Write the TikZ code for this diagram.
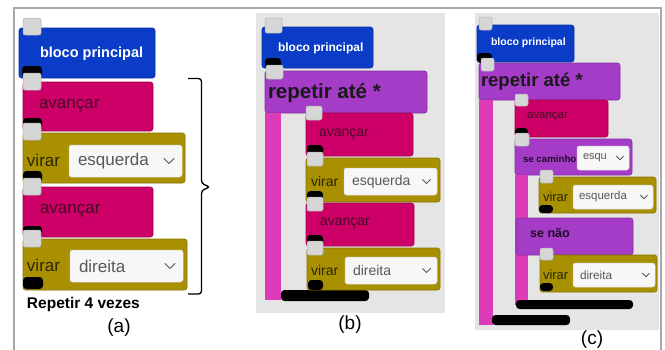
\documentclass[tikz,border=0pt]{standalone}
\usepackage{fontspec}
\setmainfont{Liberation Sans}
\definecolor{cblue}{HTML}{0A3CC8}
\definecolor{cpink}{HTML}{CC0066}
\definecolor{colive}{HTML}{A89000}
\definecolor{cpurp}{HTML}{A43CC8}
\definecolor{cbar}{HTML}{DC3CB8}
\definecolor{cbg}{HTML}{E5E5E5}
\definecolor{csq}{HTML}{D6D6D6}
\definecolor{cpinktxt}{HTML}{4A0828}
\definecolor{colivetxt}{HTML}{2B2600}
\definecolor{cddtxt}{HTML}{585858}
\definecolor{cframe}{HTML}{A8A8A8}
\newcommand\fsz[1]{\fontsize{#1}{#1}\selectfont}
\tikzset{
  blockbase/.style={anchor=north west, inner sep=0, outer sep=0, rounded corners=2.5, line width=0.6},
  graysq/.style={anchor=north west, inner sep=0, outer sep=0, rounded corners=2, fill=csq, draw=black!30, line width=0.5},
  notchbox/.style={anchor=north west, inner sep=0, outer sep=0, rounded corners=3.5, fill=black},
  ddbox/.style={anchor=north west, inner sep=0, outer sep=0, rounded corners=2.5, fill=black!3, draw=black!15, line width=0.5},
  lbl/.style={anchor=west, inner sep=0, outer sep=0},
  chevron/.style={draw=cddtxt, line width=0.9, line cap=round, line join=round},
}
% block: name, x1, y1, x2, y2, colour
\newcommand\myblock[6]{\node[blockbase, fill=#6, draw=#6!80!black,
  minimum width={(#4)-(#2)}, minimum height={(#5)-(#3)}] (#1) at (#2,#3) {};}
% connector square: name, x, y, w, h
\newcommand\grsq[5]{\node[graysq, minimum width=#4, minimum height=#5] (#1) at (#2,#3) {};}
% black notch: name, x, y, w, h
\newcommand\notchb[5]{\node[notchbox, minimum width=#4, minimum height=#5] (#1) at (#2,#3) {};}
% dropdown: name, x1, y1, x2, y2, text, font size, text inset, chevron half-width
\newcommand\ddown[9]{%
  \node[ddbox, minimum width={(#4)-(#2)}, minimum height={(#5)-(#3)}] (#1) at (#2,#3) {};
  \node[lbl, text=cddtxt, font=\fsz{#7}] (#1t) at ([xshift=#8]#1.west) {#6};
  \coordinate (#1c) at ([xshift=-#9*2.6]#1.east);
  \draw[chevron] ([shift={(-#9,-#9*0.5)}]#1c) -- ([shift={(0,#9*0.5)}]#1c) -- ([shift={(#9,-#9*0.5)}]#1c);}
\begin{document}
\begin{tikzpicture}[x=1pt,y=-1pt]
\useasboundingbox (0,0) rectangle (665,349);
\fill[white] (0,0) rectangle (665,349);
% outer frame
\draw[cframe, line width=1.4] (14,350) -- (14,8) -- (661,8) -- (661,350);

% ---------------- (a) ----------------
\myblock{aB}{19}{28}{155}{78}{cblue}
\grsq{aBs}{23}{18}{18}{17}
\node[lbl, text=white, font=\bfseries\fsz{14.5}] (aBt) at (40,54) {bloco principal};
\notchb{aBn}{22}{66}{20}{12}

\myblock{aP1}{23}{82}{153}{131}{cpink}
\grsq{aP1s}{23}{73}{18}{17}
\node[lbl, text=cpinktxt, font=\fsz{17}] (aP1t) at (39,106) {avançar};
\notchb{aP1n}{23}{118}{19}{12}

\myblock{aV1}{23}{133}{185}{183}{colive}
\grsq{aV1s}{23}{123}{18}{17}
\node[lbl, text=colivetxt, font=\fsz{17}] (aV1t) at (27,160) {virar};
\ddown{aD1}{69}{145}{182}{177}{esquerda}{17}{9}{5}
\notchb{aV1n}{23}{171}{19}{12}

\myblock{aP2}{23}{187}{153}{237}{cpink}
\grsq{aP2s}{23}{178}{18}{17}
\node[lbl, text=cpinktxt, font=\fsz{17}] (aP2t) at (40,211) {avançar};
\notchb{aP2n}{23}{226}{19}{12}

\myblock{aV2}{23}{239}{187}{290}{colive}
\grsq{aV2s}{23}{230}{18}{17}
\node[lbl, text=colivetxt, font=\fsz{17}] (aV2t) at (27,265) {virar};
\ddown{aD2}{70}{250}{183}{282}{direita}{17}{9}{5}
\notchb{aV2n}{23}{277}{20}{12}

% brace grouping the repeated blocks
\coordinate (brT) at (188,78.5);
\coordinate (brM) at (210,187);
\coordinate (brB) at (188,294);
\draw[line width=1.3, rounded corners=3] (brT) -- (201.5,78.5) -- (201.5,183.5) -- (brM) -- (201.5,190.5) -- (201.5,294) -- (brB);
\node[lbl, font=\bfseries\fsz{15.5}] (aRep) at (27,304) {Repetir 4 vezes};
\node[inner sep=0, font=\fsz{19}] (capA) at (119,328) {(a)};

% ---------------- (b) ----------------
\fill[cbg] (256,13) rectangle (445,313);
\myblock{bB}{262}{27}{373}{68}{cblue}
\grsq{bBs}{265}{18}{17}{15}
\node[lbl, text=white, font=\bfseries\fsz{12}] (bBt) at (278,48) {bloco principal};
\notchb{bBn}{265}{58}{16}{11}

\myblock{bR}{265}{71}{427}{113}{cpurp}
\grsq{bRs}{266}{65}{17}{14}
\node[lbl, text=black!90, font=\bfseries\fsz{20.5}] (bRt) at (268,93) {repetir até *};
\fill[cbar] (265,113) rectangle (281,300);
\node[notchbox, minimum width=88, minimum height=11] (bEnd) at (281,290) {};

\myblock{bP1}{306}{113}{413}{156}{cpink}
\grsq{bP1s}{306}{106}{16}{14}
\node[lbl, text=cpinktxt, font=\fsz{14}] (bP1t) at (319,134) {avançar};
\notchb{bP1n}{307}{145}{16}{10}

\myblock{bV1}{306}{158}{440}{202}{colive}
\grsq{bV1s}{307}{152}{16}{14}
\node[lbl, text=colivetxt, font=\fsz{14}] (bV1t) at (311,181) {virar};
\ddown{bD1}{344}{168}{437}{195}{esquerda}{14}{8}{4}
\notchb{bV1n}{307}{191}{16}{10}

\myblock{bP2}{306}{203}{414}{246}{cpink}
\grsq{bP2s}{307}{197}{16}{14}
\node[lbl, text=cpinktxt, font=\fsz{14}] (bP2t) at (320,223) {avançar};
\notchb{bP2n}{307}{235}{16}{10}

\myblock{bV2}{307}{248}{440}{290}{colive}
\grsq{bV2s}{307}{241}{16}{14}
\node[lbl, text=colivetxt, font=\fsz{14}] (bV2t) at (311,270) {virar};
\ddown{bD2}{345}{257}{437}{284}{direita}{14}{8}{4}
\notchb{bV2n}{308}{280}{15}{10}
\node[inner sep=0, font=\fsz{19}] (capB) at (350,325) {(b)};

% ---------------- (c) ----------------
\fill[cbg] (475,13) rectangle (659,330);
\myblock{cB}{477}{25}{574}{62}{cblue}
\grsq{cBs}{479}{17}{13}{13}
\node[lbl, text=white, font=\bfseries\fsz{10.5}] (cBt) at (491,43) {bloco principal};
\notchb{cBn}{477}{53}{15}{10}

\myblock{cR}{479}{63}{620}{100}{cpurp}
\grsq{cRs}{481}{58}{13}{13}
\node[lbl, text=black!90, font=\bfseries\fsz{18.5}] (cRt) at (481,82) {repetir até *};
\fill[cbar] (479,100) rectangle (493,325);
\node[notchbox, minimum width=78, minimum height=10] (cEnd) at (492,315) {};

\myblock{cP1}{515}{100}{608}{137}{cpink}
\grsq{cP1s}{515}{94}{13}{12}
\node[lbl, text=cpinktxt, font=\fsz{11.5}] (cP1t) at (527,117) {avançar};
\notchb{cP1n}{515}{128}{13}{10}

\myblock{cIf}{515}{139}{632}{175}{cpurp}
\grsq{cIfs}{515}{133}{14}{13}
\node[lbl, text=black!80!cpurp, font=\bfseries\fsz{9.7}] (cIft) at (523,159) {se caminho};
\ddown{cDc}{577}{146}{629}{170}{esqu}{11}{6}{3.5}
\fill[cbar] (515,175) rectangle (528,305);

\myblock{cV1}{539}{177}{656}{213}{colive}
\grsq{cV1s}{540}{170}{13}{13}
\node[lbl, text=colivetxt, font=\fsz{13}] (cV1t) at (543,197) {virar};
\ddown{cD1}{573}{185}{653}{209}{esquerda}{11.5}{6}{3.5}
\notchb{cV1n}{539}{205}{14}{8}

\myblock{cElse}{516}{218}{633}{255}{cpurp}
\node[lbl, text=black!80!cpurp, font=\bfseries\fsz{12.6}] (cElset) at (530,233) {se não};

\myblock{cV2}{540}{255}{657}{292}{colive}
\grsq{cV2s}{540}{248}{13}{12}
\node[lbl, text=colivetxt, font=\fsz{13}] (cV2t) at (543,275) {virar};
\ddown{cD2}{573}{263}{655}{287}{direita}{11.8}{7}{3.5}
\notchb{cV2n}{540}{283}{13}{8}
\node[notchbox, minimum width=117, minimum height=9] (cIfEnd) at (516,300) {};
\node[inner sep=0, font=\fsz{19}] (capC) at (592,340) {(c)};
\end{tikzpicture}
\end{document}
